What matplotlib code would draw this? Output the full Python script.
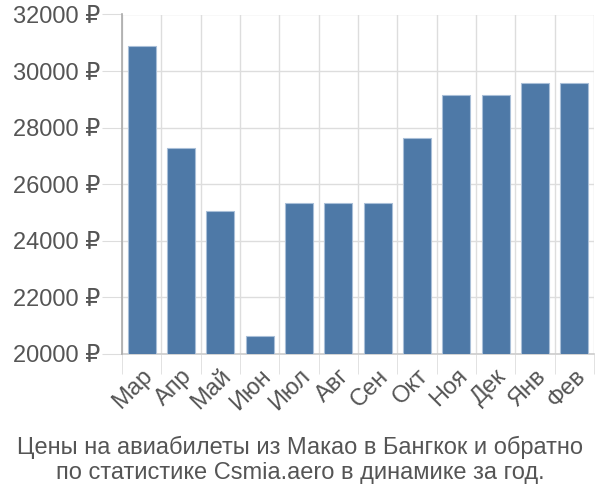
import matplotlib.pyplot as plt
import numpy as np

plt.rcParams['font.family'] = ['Liberation Sans', 'DejaVu Sans']

months = ['Мар', 'Апр', 'Май', 'Июн', 'Июл', 'Авг', 'Сен', 'Окт', 'Ноя', 'Дек', 'Янв', 'Фев']
prices = [30900, 27290, 25060, 20620, 25330, 25330, 25330, 27650, 29145, 29145, 29590, 29590]
yticks = [20000, 22000, 24000, 26000, 28000, 30000, 32000]

fig = plt.figure(figsize=(6, 5), dpi=100)
ax = fig.add_axes([122 / 600, 1 - 354 / 500, (594 - 122) / 600, (354 - 14.5) / 500])

x = np.arange(len(months))
ax.bar(x, prices, width=0.72, color='#4e79a7', edgecolor='#a9bfd8', linewidth=0.8, zorder=3)

ax.set_ylim(20000, 32000)
ax.set_xlim(-0.5, len(months) - 0.5)

# grid lines: horizontal at ticks, vertical between bars
ax.set_yticks(yticks)
ax.set_yticklabels([f'{v} ₽' for v in yticks])
ax.set_xticks(x)
ax.set_xticklabels(months, rotation=45, ha='right', rotation_mode='anchor')
ax.set_xticks(np.arange(len(months) + 1) - 0.5, minor=True)

ax.grid(axis='y', color='#dddddd', linewidth=1, zorder=0)
ax.grid(axis='x', which='minor', color='#dddddd', linewidth=1, zorder=0)

ax.tick_params(axis='y', length=14.4, color='#dddddd', labelsize=17, labelcolor='#555555', pad=1)
ax.tick_params(axis='x', which='major', length=0, labelsize=17, labelcolor='#555555', pad=8)
ax.tick_params(axis='x', which='minor', length=14.4, color='#dddddd')

for s in ['top', 'right']:
    ax.spines[s].set_visible(False)
ax.spines['left'].set_color('#aaaaaa')
ax.spines['left'].set_linewidth(1.2)
ax.spines['bottom'].set_color('#cccccc')
ax.spines['bottom'].set_linewidth(1.2)
ax.spines['left'].set_zorder(4)

fig.text(0.5, 1 - 460 / 500, 'Цены на авиабилеты из Макао в Бангкок и обратно\nпо статистике Csmia.aero в динамике за год.',
         ha='center', va='center', fontsize=17, color='#555555', linespacing=1.15)

fig.savefig('out.png', dpi=100)
